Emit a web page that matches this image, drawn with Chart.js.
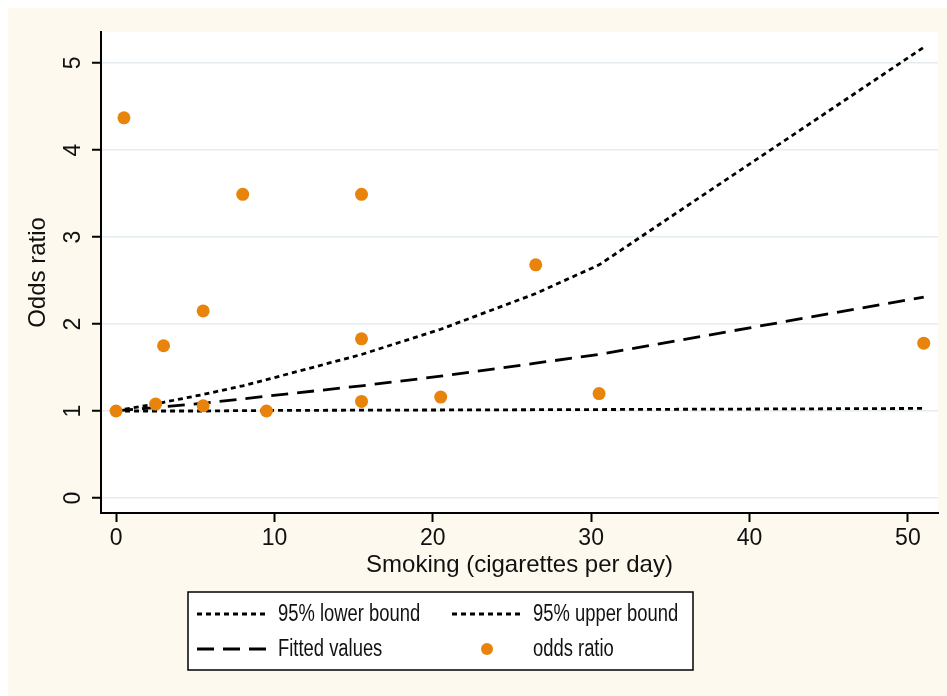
<!DOCTYPE html>
<html>
<head>
<meta charset="utf-8">
<script src="https://cdn.jsdelivr.net/npm/chart.js@4"></script>
<style>
  html, body { margin: 0; padding: 0; background: #fff; }
  #wrap { width: 947px; height: 696px; position: relative; }
</style>
</head>
<body>
<div id="wrap"><canvas id="oddsChart"></canvas></div>
<script>
// x values where the fitted curves were evaluated
var curveX = [0, 0.5, 2.5, 3, 5.5, 8, 9.5, 15.5, 20.5, 26.5, 30.5, 51];
var lowerBound = [1.00, 1.00, 1.00, 1.00, 1.00, 1.005, 1.006, 1.01, 1.012, 1.015, 1.017, 1.03];
var upperBound = [1.00, 1.02, 1.08, 1.10, 1.19, 1.29, 1.36, 1.65, 1.94, 2.35, 2.68, 5.18];
var fittedValues = [1.00, 1.01, 1.04, 1.05, 1.09, 1.14, 1.17, 1.29, 1.40, 1.55, 1.65, 2.31];

// observed odds ratios
var oddsX = [0, 0.5, 2.5, 3, 5.5, 5.5, 8, 9.5, 15.5, 15.5, 15.5, 20.5, 26.5, 30.5, 51];
var oddsY = [1.00, 4.37, 1.08, 1.75, 2.15, 1.06, 3.49, 1.00, 3.49, 1.83, 1.11, 1.16, 2.68, 1.20, 1.78];

var xTicks = [0, 10, 20, 30, 40, 50];
var yTicks = [0, 1, 2, 3, 4, 5];

var orange = '#e8830c';
var fontFamily = '"Liberation Sans", Arial, Helvetica, sans-serif';

function pts(xs, ys) {
  return xs.map(function (x, i) { return { x: x, y: ys[i] }; });
}

var bgPlugin = {
  id: 'bg',
  beforeDraw: function (chart) {
    var c = chart.ctx, a = chart.chartArea;
    c.save();
    c.fillStyle = '#ffffff';
    c.fillRect(0, 0, chart.width, chart.height);
    c.fillStyle = '#fdf9ee';
    c.fillRect(8, 8, chart.width - 8, chart.height - 8);
    c.fillStyle = '#ffffff';
    c.fillRect(a.left, a.top, a.right - a.left, a.bottom - a.top);
    c.restore();
  }
};

// Stata-style 2x2 legend box under the axis title
var legendPlugin = {
  id: 'stataLegend',
  afterDraw: function (chart) {
    var c = chart.ctx;
    var ds = chart.data.datasets;
    var box = { x: 188, y: 592, w: 505, h: 78 };
    c.save();
    c.fillStyle = '#ffffff';
    c.fillRect(box.x, box.y, box.w, box.h);
    c.strokeStyle = '#000';
    c.lineWidth = 1.5;
    c.strokeRect(box.x, box.y, box.w, box.h);

    var items = [
      { d: ds[1], col: 0, row: 0 },
      { d: ds[2], col: 1, row: 0 },
      { d: ds[3], col: 0, row: 1 },
      { d: ds[0], col: 1, row: 1 }
    ];
    var colX = [197, 452];
    var textX = [278, 533];
    var rowY = [614, 649];
    items.forEach(function (it) {
      var y = rowY[it.row], x0 = colX[it.col];
      if (it.d.showLine) {
        c.beginPath();
        c.setLineDash(it.d.borderDash || []);
        c.strokeStyle = it.d.borderColor;
        c.lineWidth = it.d.borderWidth;
        c.moveTo(x0, y);
        c.lineTo(x0 + 69, y);
        c.stroke();
        c.setLineDash([]);
      } else {
        c.beginPath();
        c.fillStyle = it.d.pointBackgroundColor;
        c.arc(x0 + 35, y, 6, 0, Math.PI * 2);
        c.fill();
      }
      c.save();
      c.translate(textX[it.col], y);
      c.scale(0.8, 1);
      c.fillStyle = '#111';
      c.font = '23px ' + fontFamily;
      c.textBaseline = 'middle';
      c.textAlign = 'left';
      c.fillText(it.d.label, 0, 1);
      c.restore();
    });
    c.restore();
  }
};

new Chart(document.getElementById('oddsChart'), {
  type: 'scatter',
  data: {
    datasets: [
      {
        label: 'odds ratio',
        data: pts(oddsX, oddsY),
        showLine: false,
        pointRadius: 6.5,
        pointBorderWidth: 0,
        pointBackgroundColor: orange,
        order: 0
      },
      {
        label: '95% lower bound',
        data: pts(curveX, lowerBound),
        showLine: true,
        borderColor: '#000',
        borderWidth: 2.8,
        borderDash: [5, 4],
        pointRadius: 0,
        order: 1
      },
      {
        label: '95% upper bound',
        data: pts(curveX, upperBound),
        showLine: true,
        borderColor: '#000',
        borderWidth: 2.8,
        borderDash: [5, 4],
        pointRadius: 0,
        order: 2
      },
      {
        label: 'Fitted values',
        data: pts(curveX, fittedValues),
        showLine: true,
        borderColor: '#000',
        borderWidth: 2.8,
        borderDash: [17, 9],
        pointRadius: 0,
        order: 3
      }
    ]
  },
  options: {
    responsive: true,
    maintainAspectRatio: false,
    animation: false,
    layout: { padding: { left: 0, top: 32, right: 9, bottom: 103 } },
    plugins: {
      legend: { display: false },
      tooltip: { enabled: false }
    },
    scales: {
      x: {
        type: 'linear',
        min: -0.95,
        max: 51.9,
        afterBuildTicks: function (axis) {
          axis.ticks = xTicks.map(function (v) { return { value: v }; });
        },
        afterFit: function (axis) { axis.height = 80; },
        grid: {
          drawOnChartArea: false,
          tickColor: '#000',
          tickLength: 9,
          tickWidth: 2
        },
        border: { color: '#000', width: 2 },
        ticks: {
          color: '#111',
          padding: 3,
          maxRotation: 0,
          font: { family: fontFamily, size: 23 }
        },
        title: {
          display: true,
          text: 'Smoking (cigarettes per day)',
          color: '#111',
          padding: { top: 0, bottom: 13.6 },
          font: { family: fontFamily, size: 24 }
        }
      },
      y: {
        type: 'linear',
        min: -0.172,
        max: 5.356,
        afterBuildTicks: function (axis) {
          axis.ticks = yTicks.map(function (v) { return { value: v }; });
        },
        afterFit: function (axis) { axis.width = 101; },
        grid: {
          color: '#e4ecef',
          lineWidth: 1.5,
          tickColor: '#000',
          tickLength: 9,
          tickWidth: 2
        },
        border: { color: '#000', width: 2 },
        ticks: {
          color: '#111',
          minRotation: 90,
          maxRotation: 90,
          crossAlign: 'center',
          padding: 12,
          font: { family: fontFamily, size: 23 }
        },
        title: {
          display: true,
          text: 'Odds ratio',
          color: '#111',
          padding: { top: 23.6, bottom: 0 },
          font: { family: fontFamily, size: 24 }
        }
      }
    }
  },
  plugins: [bgPlugin, legendPlugin]
});
</script>
</body>
</html>
